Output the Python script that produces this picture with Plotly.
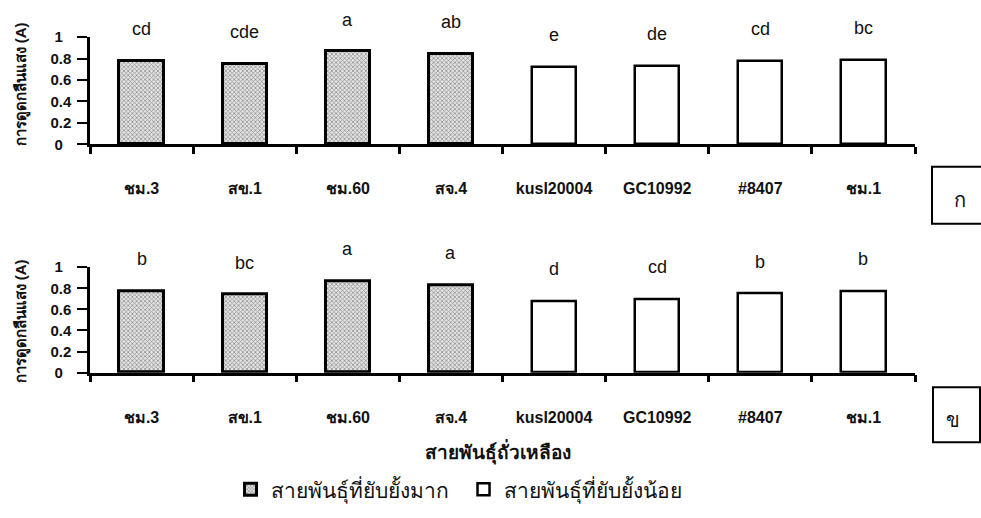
import plotly.graph_objects as go

# Soybean lines and absorbance readings for the two assays (ก, ข)
varieties = ["ชม.3", "สข.1", "ชม.60", "สจ.4", "kusl20004", "GC10992", "#8407", "ชม.1"]
strong_inhibition = [True, True, True, True, False, False, False, False]

absorbance_a = [0.78, 0.75, 0.865, 0.84, 0.72, 0.73, 0.78, 0.79]
letters_a = ["cd", "cde", "a", "ab", "e", "de", "cd", "bc"]

absorbance_b = [0.77, 0.74, 0.865, 0.83, 0.68, 0.70, 0.75, 0.77]
letters_b = ["b", "bc", "a", "a", "d", "cd", "b", "b"]

y_ticks = [0, 0.2, 0.4, 0.6, 0.8, 1]
y_ticktext = ["0\u2007", "0.2", "0.4", "0.6", "0.8", "1\u2007"]

legend_names = ["สายพันธุ์ที่ยับยั้งมาก", "สายพันธุ์ที่ยับยั้งน้อย"]
y_title = "การดูดกลืนแสง (A)"
x_title = "สายพันธุ์ถั่วเหลือง"
panel_tags = ["ก", "ข"]

FONT = "Liberation Sans, Arial, sans-serif"
W, H = 981, 518

x_dom = [90 / W, 915 / W]
y_doms = [[(H - 140) / H, (H - 29) / H], [(H - 376) / H, (H - 267) / H]]

fig = go.Figure()

panels = [(absorbance_a, letters_a), (absorbance_b, letters_b)]
for p, (vals, letters) in enumerate(panels):
    xa = "x" if p == 0 else "x2"
    ya = "y" if p == 0 else "y2"
    for grp, name in zip([True, False], legend_names):
        xs = [v for v, s in zip(varieties, strong_inhibition) if s == grp]
        ys = [a for a, s in zip(vals, strong_inhibition) if s == grp]
        if grp:
            marker = dict(color="#d9d9d9",
                          pattern=dict(shape="x", size=3, solidity=0.45,
                                       fgcolor="#3a3a3a", bgcolor="#e4e4e4"),
                          line=dict(color="black", width=3))
        else:
            marker = dict(color="white", line=dict(color="black", width=2.5))
        fig.add_trace(go.Bar(x=xs, y=ys, width=0.43, marker=marker, name=name,
                             showlegend=(p == 0), legendgroup=name,
                             xaxis=xa, yaxis=ya))
    for v, a, t in zip(varieties, vals, letters):
        fig.add_annotation(x=v, y=a, xref=xa, yref=ya, text=t, showarrow=False,
                           xanchor="center", yanchor="middle", yshift=32,
                           font=dict(family=FONT, size=18, color="#111"))

axis_x = dict(domain=x_dom, type="category", categoryorder="array",
              categoryarray=varieties, range=[-0.5, 7.5],
              showline=True, linecolor="black", linewidth=2.5,
              ticks="outside", tickson="boundaries", ticklen=7, tickwidth=2.5,
              tickcolor="black", ticklabelstandoff=28,
              tickfont=dict(family=FONT, size=16, color="#111", weight="bold"),
              showgrid=False, zeroline=False, fixedrange=True)
axis_y = dict(range=[0, 1], tickvals=y_ticks, ticktext=y_ticktext,
              showline=True, linecolor="black", linewidth=2.5,
              ticks="outside", ticklen=10, tickwidth=2, tickcolor="black",
              ticklabelstandoff=3,
              tickfont=dict(family=FONT, size=15, color="#111", weight="bold"),
              showgrid=False, zeroline=False, fixedrange=True)

fig.update_layout(
    width=W, height=H,
    margin=dict(l=0, r=0, t=0, b=0),
    paper_bgcolor="white", plot_bgcolor="rgba(0,0,0,0)",
    barmode="overlay", bargap=0,
    xaxis=dict(axis_x, anchor="y"),
    xaxis2=dict(axis_x, anchor="y2"),
    yaxis=dict(axis_y, domain=y_doms[0], anchor="x"),
    yaxis2=dict(axis_y, domain=y_doms[1], anchor="x2"),
    showlegend=True,
    legend=dict(orientation="h", x=0.235, y=(H - 497) / H, xanchor="left",
                yanchor="middle", itemwidth=30, entrywidth=188,
                font=dict(family=FONT, size=21, color="#111"),
                bgcolor="rgba(0,0,0,0)"),
    font=dict(family=FONT, color="#111"),
)

# Y-axis titles, x-axis title
for yc in [78, 323]:
    fig.add_annotation(x=21 / W, y=(H - yc) / H, xref="paper", yref="paper",
                       text=y_title, textangle=-90, showarrow=False,
                       xanchor="center", yanchor="middle",
                       font=dict(family=FONT, size=15, color="#111", weight="bold"))
fig.add_annotation(x=498 / W, y=(H - 458) / H, xref="paper", yref="paper",
                   text=x_title, showarrow=False, xanchor="center", yanchor="middle",
                   font=dict(family=FONT, size=19, color="#111", weight="bold"))

# Panel tag boxes
boxes = [(932, 163, 995, 222, 960, 197), (933, 391, 980, 448, 953, 425)]
for tag, (bx0, by0, bx1, by1, tx, ty) in zip(panel_tags, boxes):
    fig.add_shape(type="rect", xref="paper", yref="paper",
                  x0=bx0 / W, x1=bx1 / W, y0=(H - by1) / H, y1=(H - by0) / H,
                  line=dict(color="black", width=2))
    fig.add_annotation(x=tx / W, y=(H - ty) / H, xref="paper", yref="paper",
                       text=tag, showarrow=False, xanchor="center", yanchor="middle",
                       font=dict(family=FONT, size=20, color="#111"))

fig.write_html("out.html")
